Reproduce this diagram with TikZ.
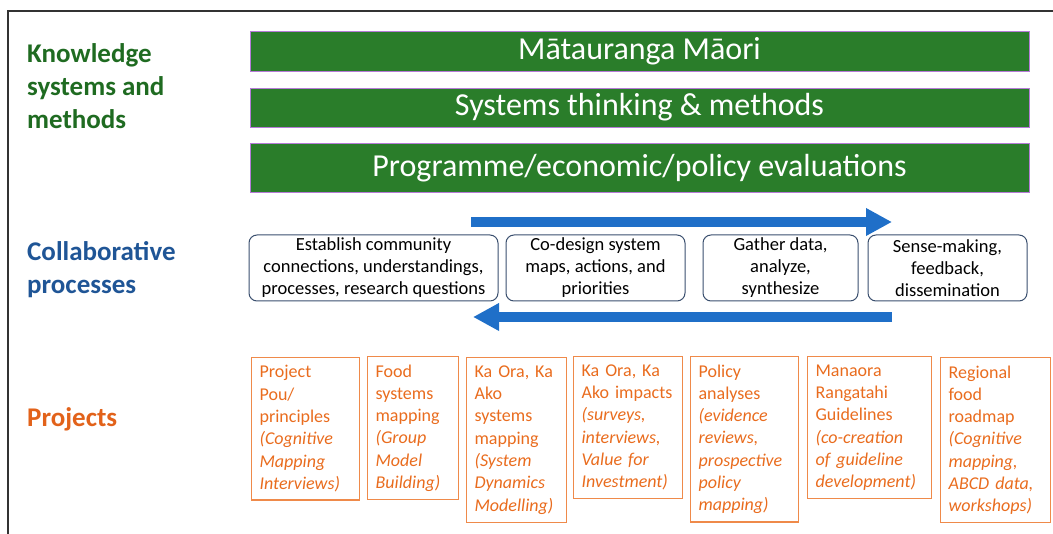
\documentclass[tikz,border=0pt]{standalone}
\usepackage{fontspec}
\setmainfont{Carlito}
\usepackage{xcolor}
\definecolor{cGreen}{HTML}{2A7D2A}
\definecolor{cGreenText}{HTML}{1F6B21}
\definecolor{cEdge}{HTML}{B57BD6}
\definecolor{cBlue}{HTML}{1F6FC8}
\definecolor{cBlueText}{HTML}{1F5596}
\definecolor{cSlate}{HTML}{3A4F6E}
\definecolor{cOrange}{HTML}{EF8A4A}
\definecolor{cOrangeText}{HTML}{E96C1E}
\definecolor{cOrangeHead}{HTML}{E2621A}
\definecolor{cFrame}{HTML}{333333}
\usepackage{tikz}
\usetikzlibrary{positioning,arrows.meta}
\tikzset{
  bar-box/.style={draw=cEdge,fill=cGreen,line width=0.8pt,
    minimum width=779pt,text=white,font=\fontsize{32}{36}\selectfont},
  proc-box/.style={draw=cSlate,line width=1pt,rounded corners=8pt,
    minimum height=66pt,align=center,inner sep=0pt,
    font=\fontsize{18.5}{22}\selectfont},
  proj-box/.style={draw=cOrange,line width=1.2pt,anchor=north west,
    align=left,text=cOrangeText,inner xsep=8pt,inner ysep=8pt,
    font=\fontsize{18}{22.3}\selectfont},
  row-label/.style={anchor=north west,align=left,inner sep=0pt,
    font=\bfseries\fontsize{27}{33}\selectfont},
  flow/.style={line width=10pt,draw=cBlue,-{Triangle[length=26pt,width=26pt]}},
}

\begin{document}
\begin{tikzpicture}[x=1pt,y=-1pt]
  \useasboundingbox (0,0) rectangle (1053,534);
  % frame edges
  \coordinate (frameR) at (1053,11);
  \coordinate (frameTL) at (8,11);
  \coordinate (frameB) at (8,534);
  \draw[cFrame,line width=1.5pt] (frameR) -- (frameTL) -- (frameB);

  % row headings
  \node[row-label,text=cGreenText] (knowledge) at (27,43) {Knowledge\\systems and\\methods};
  \node[row-label,text=cBlueText] (collab) at (27,241) {Collaborative\\processes};
  \node[row-label,text=cOrangeHead] (projects) at (27,407) {Projects};

  % knowledge bars
  \node[bar-box,minimum height=40pt] (matauranga) at (639.5,51) {Mātauranga Māori};
  \node[bar-box,minimum height=39pt] (systems) at (639.5,107.5) {Systems thinking \& methods};
  \node[bar-box,minimum height=49pt] (evaluations) at (639.5,168) {Programme/economic/policy evaluations};

  % process steps
  \node[proc-box,minimum width=249pt] (establish) at (373.5,268)
    {Establish community\\connections, understandings,\\processes, research questions};
  \node[proc-box,minimum width=179pt] (codesign) at (595.5,268)
    {Co-design system\\maps, actions, and\\priorities};
  \node[proc-box,minimum width=155pt] (gather) at (780.5,268)
    {Gather data,\\analyze,\\synthesize};
  \node[proc-box,minimum width=159pt] (sense) at (947.5,268)
    {Sense-making,\\feedback,\\dissemination};

  % forward and feedback arrows
  \coordinate (fwdA) at (471,222);
  \coordinate (fwdB) at (892,222);
  \coordinate (backA) at (892,317);
  \coordinate (backB) at (473,317);
  \draw[flow] (fwdA) -- (fwdB);
  \draw[flow] (backA) -- (backB);

  % projects
  \node[proj-box,text width=92pt] (pou) at (251,357)
    {Project\\Pou/\\principles\\\textit{(Cognitive}\\\textit{Mapping}\\\textit{Interviews)}};
  \node[proj-box,text width=75pt] (foodmap) at (367,356)
    {Food\\systems\\mapping\\\textit{(Group}\\\textit{Model}\\\textit{Building)}};
  \node[proj-box,text width=84pt] (kaoramap) at (466,357)
    {Ka Ora, Ka\\Ako\\systems\\mapping\\\textit{(System}\\\textit{Dynamics}\\\textit{Modelling)}};
  \node[proj-box,text width=93pt] (kaoraimp) at (573,356)
    {Ka Ora, Ka\\Ako impacts\\\textit{(surveys,}\\\textit{interviews,}\\\textit{Value for}\\\textit{Investment)}};
  \node[proj-box,text width=92pt] (policy) at (690,356)
    {Policy\\analyses\\\textit{(evidence}\\\textit{reviews,}\\\textit{prospective}\\\textit{policy}\\\textit{mapping)}};
  \node[proj-box,text width=108pt] (manaora) at (807,356)
    {Manaora\\Rangatahi\\Guidelines\\\textit{(co-creation}\\\textit{of guideline}\\\textit{development)}};
  \node[proj-box,text width=94pt] (roadmap) at (940,357)
    {Regional\\food\\roadmap\\\textit{(Cognitive}\\\textit{mapping,}\\\textit{ABCD data,}\\\textit{workshops)}};
\end{tikzpicture}
\end{document}
